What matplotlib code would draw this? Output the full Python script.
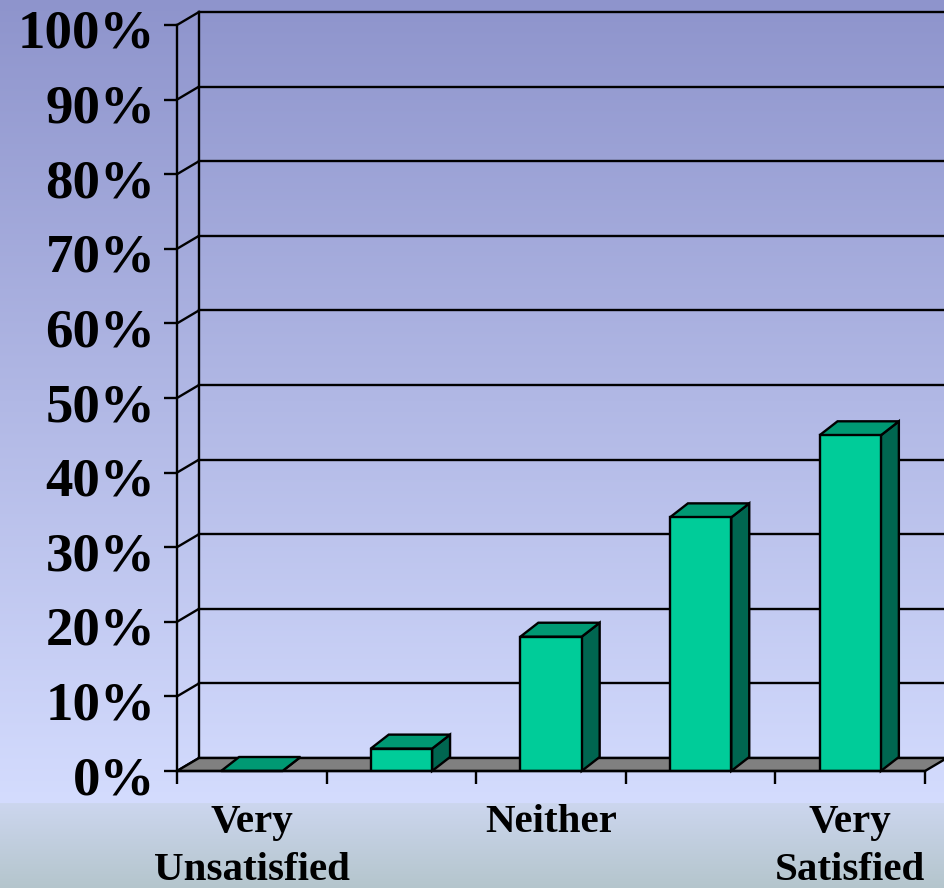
import numpy as np
import matplotlib
matplotlib.use("Agg")
import matplotlib.pyplot as plt
import matplotlib.transforms as mtransforms
from matplotlib.patches import Polygon

# data
categories = ["Very\nUnsatisfied", "", "Neither", "", "Very\nSatisfied"]
values = [0, 3, 18, 34, 45]
yticks = list(range(0, 101, 10))
ytick_labels = ["{}%".format(t) for t in yticks]

plt.rcParams['font.family'] = ['Liberation Serif', 'DejaVu Serif']
plt.rcParams['font.weight'] = 'bold'

W, H = 945, 888
fig = plt.figure(figsize=(W / 100, H / 100), dpi=100)

# background: lavender gradient + grey-blue strip at bottom
bg = fig.add_axes([0, 0, 1, 1], zorder=-5)
bg.set_axis_off()
rows = np.zeros((H, 1, 3))
top = np.array([142, 148, 204]) / 255
mid = np.array([212, 220, 254]) / 255
s_top = np.array([204, 214, 238]) / 255
s_bot = np.array([180, 197, 204]) / 255
cut = 803
for r in range(H):
    if r < cut:
        t = r / cut
        rows[r, 0] = top * (1 - t) + mid * t
    else:
        t = (r - cut) / (H - cut)
        rows[r, 0] = s_top * (1 - t) + s_bot * t
bg.imshow(rows, aspect='auto', extent=(0, 1, 0, 1), interpolation='nearest')

# main plot area = front plane of the 3d box
left, right = 177, 925
front_top, front_bot = 25, 771
ax = fig.add_axes([left / W, (H - front_bot) / H, (right - left) / W, (front_bot - front_top) / H])
ax.set_facecolor('none')
ax.set_xlim(0, 5)
ax.set_ylim(0, 100)

px_x = (right - left) / 5.0
px_y = (front_bot - front_top) / 100.0
dx = 22 / px_x      # depth offset of the back wall
dy = 13 / px_y
bdx = 18 / px_x     # depth of the bars
bdy = 14 / px_y

lw = 1.7
# back wall gridlines + side wall diagonals
for t in yticks:
    ax.plot([dx, 5 + dx + 0.2], [t + dy, t + dy], color='black', lw=lw, clip_on=False, zorder=1)
    ax.plot([0, dx], [t, t + dy], color='black', lw=lw, clip_on=False, zorder=1)
ax.plot([dx, dx], [dy, 100 + dy], color='black', lw=lw, clip_on=False, zorder=1)

# floor
floor = Polygon([(0, 0), (dx, dy), (5 + dx, dy), (5, 0)], closed=True,
                facecolor='#808080', edgecolor='black', lw=lw, clip_on=False, zorder=2)
ax.add_patch(floor)

# bars
front_c = '#00CC99'
top_c = '#009973'
side_c = '#006650'
w = 0.41
xs = np.arange(len(values)) + 0.5
for x, v in zip(xs, values):
    x0, x1 = x - w / 2, x + w / 2
    ax.add_patch(Polygon([(x1, 0), (x1 + bdx, bdy), (x1 + bdx, v + bdy), (x1, v)], closed=True,
                         facecolor=side_c, edgecolor='black', lw=lw, zorder=3, clip_on=False))
    ax.add_patch(Polygon([(x0, v), (x1, v), (x1 + bdx, v + bdy), (x0 + bdx, v + bdy)], closed=True,
                         facecolor=top_c, edgecolor='black', lw=lw, zorder=3, clip_on=False))
ax.bar(xs, values, width=w, color=front_c, edgecolor='black', linewidth=lw, zorder=4)

# axes styling
for s in ['top', 'right']:
    ax.spines[s].set_visible(False)
ax.spines['left'].set_linewidth(lw)
ax.spines['bottom'].set_linewidth(lw)
ax.spines['left'].set_zorder(5)
ax.spines['bottom'].set_zorder(5)

ax.set_yticks(yticks)
ax.set_yticklabels(ytick_labels, fontsize=39.5, fontweight='bold')
ax.tick_params(axis='y', length=9.5, width=lw, pad=6, direction='out')
shift = mtransforms.ScaledTranslation(0, -4 / 100, fig.dpi_scale_trans)
for lab in ax.get_yticklabels():
    lab.set_va('center_baseline')
    lab.set_transform(lab.get_transform() + shift)

ax.set_xticks(range(6))
ax.set_xticklabels([])
ax.tick_params(axis='x', which='major', length=9, width=lw, direction='out')
ax.set_xticks(xs, minor=True)
ax.set_xticklabels(categories, minor=True, fontsize=29.5, fontweight='bold', linespacing=1.38)
ax.tick_params(axis='x', which='minor', length=0, pad=24)

fig.savefig('out.png', dpi=100)
